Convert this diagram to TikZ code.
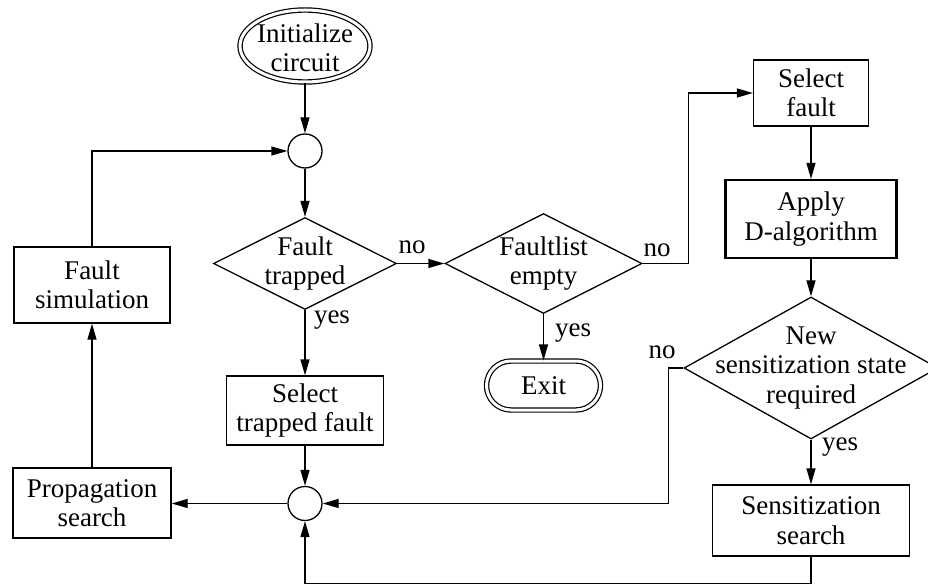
\documentclass[tikz,border=0pt]{standalone}
\usepackage{fontspec}
\setmainfont{Liberation Serif}
\usetikzlibrary{shapes.geometric,shapes.misc,arrows.meta}
\begin{document}
\begin{tikzpicture}[x=1pt,y=1pt,
  every node/.style={font=\fontsize{27}{29.5}\selectfont},
  base/.style={draw, line width=1.3pt, inner sep=0pt, align=center},
  box/.style={base, rectangle},
  dia/.style={base, diamond},
  dot/.style={base, circle, minimum size=34pt},
  term/.style={base, double, double distance=3pt, line width=1.2pt},
  lbl/.style={inner sep=0pt},
  arr/.style={line width=1.3pt, -{Triangle[length=16pt,width=9pt]}}
]
\useasboundingbox (0,0) rectangle (928,-585);
\clip (0,0) rectangle (928,-585);

% nodes
\node[term, ellipse, minimum width=130pt, minimum height=72pt,
      label={[align=center,yshift=-2pt]center:Initialize\\circuit}] (init) at (305,-46) {};
\node[dot] (c1) at (305,-151) {};
\node[dia, minimum width=183pt, minimum height=92pt,
      label={[align=center]center:Fault\\trapped}] (d1) at (305,-263.5) {};
\node[dia, minimum width=197pt, minimum height=100pt,
      label={[align=center]center:Faultlist\\empty}] (d2) at (543.5,-263.5) {};
\node[term, rounded rectangle, minimum width=114pt, minimum height=49pt] (exit) at (543.5,-385.5) {Exit};
\node[box, minimum width=115pt, minimum height=66pt] (sf) at (811,-93) {Select\\fault};
\node[box, line width=2.2pt, minimum width=171pt, minimum height=78pt] (ad) at (811,-219) {Apply\\D-algorithm};
\node[dia, minimum width=254pt, minimum height=142pt,
      label={[align=center]center:New\\sensitization state\\required}] (d3) at (811,-368) {};
\node[box, minimum width=197pt, minimum height=71pt] (ss) at (811,-520.5) {Sensitization\\search};
\node[box, minimum width=157pt, minimum height=69pt] (stf) at (305,-410.5) {Select\\trapped fault};
\node[dot] (c2) at (305,-503.5) {};
\node[box, minimum width=158pt, minimum height=70pt] (ps) at (92,-503) {Propagation\\search};
\node[box, minimum width=156pt, minimum height=76pt] (fs) at (92,-285) {Fault\\simulation};

% labels
\node[lbl] (no1) at (412,-247) {no};
\node[lbl] (yes1) at (332,-320) {yes};
\node[lbl] (no2) at (657,-250) {no};
\node[lbl] (yes2) at (573,-333) {yes};
\node[lbl] (no3) at (662,-352) {no};
\node[lbl] (yes3) at (840,-447) {yes};

% connectors
\draw[arr] (init) -- (c1);
\draw[arr] (c1) -- (d1);
\draw[arr] (d1.east) -- (d2.west);
\draw[arr] (d1) -- (stf);
\draw[arr] (stf) -- (c2);
\draw[arr] (c2.west) -- (c2.west -| ps.east);
\draw[arr] (ps) -- (fs);
\draw[arr] (fs.north) |- (c1.west);
\draw[arr] (d2.east) -- ++(46,0) |- (sf.west);
\draw[arr] (d2) -- (exit);
\draw[arr] (sf) -- (ad);
\draw[arr] (ad) -- (d3);
\draw[arr] (d3.west) -- ++(-15,0) |- (c2.east);
\draw[arr] (d3) -- (ss);
\draw[arr] (ss.south) -- ++(0,-27) -| (c2.south);
\end{tikzpicture}
\end{document}
